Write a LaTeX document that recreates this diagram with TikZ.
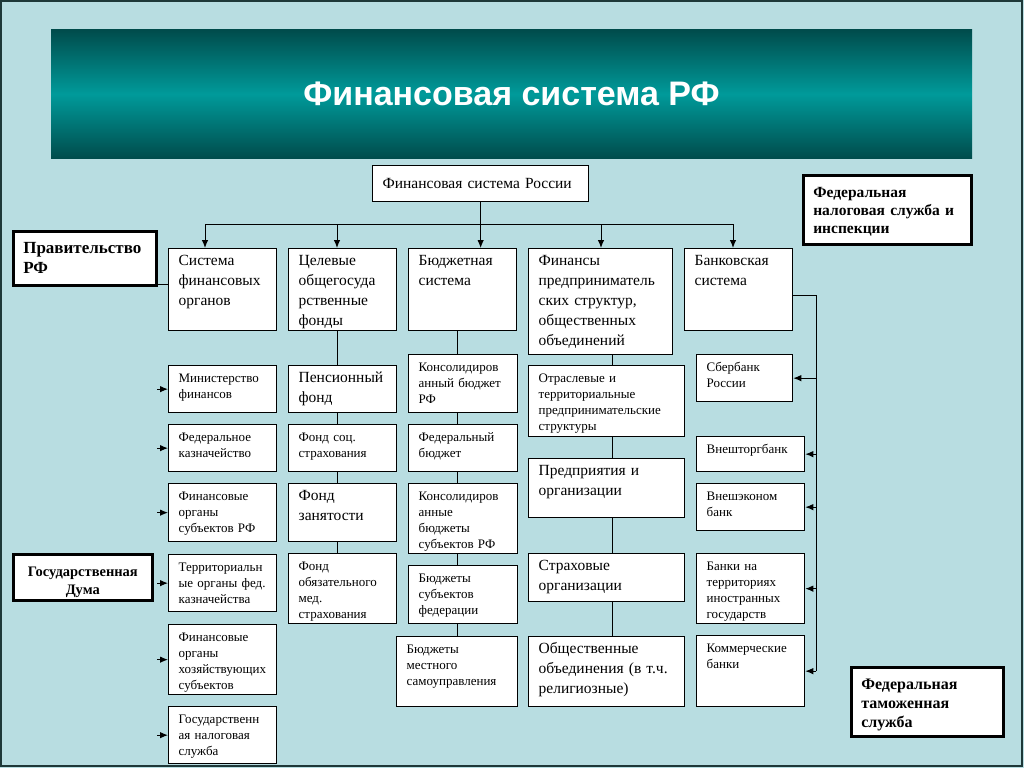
\documentclass[tikz,border=0pt]{standalone}
\usepackage{fontspec}
\setmainfont{Liberation Serif}
\newfontfamily\titlefont{Liberation Sans}
\usetikzlibrary{arrows.meta}
\definecolor{bg}{HTML}{B8DDE1}
\definecolor{tealdark}{HTML}{004C4C}
\definecolor{teallight}{HTML}{009A9A}
\definecolor{framecol}{HTML}{1E3838}
\tikzset{
  cell/.style={draw, fill=white, line width=1.3pt, anchor=north west, align=left,
    inner xsep=10pt, inner ysep=5pt, text height=12pt, font=\fontsize{13}{16}\selectfont},
  big/.style={font=\fontsize{15.5}{20}\selectfont},
  sz/.style 2 args={text width=#1pt-20pt, text depth=#2pt-22pt},
  head/.style={cell, line width=2.6pt, inner ysep=8pt, text height=14pt},
  hsz/.style 2 args={text width=#1pt-22pt, text depth=#2pt-30pt},
  arr/.style={-{Latex[length=8pt,width=6.5pt]}},
}
\begin{document}
\begin{tikzpicture}[x=1pt,y=-1pt]
  \useasboundingbox (0,0) rectangle (1024,768);
  \fill[bg] (0,0) rectangle (1024,768);
  \draw[framecol, line width=2pt] (1,1) rectangle (1022,766);
  \node[top color=tealdark, bottom color=tealdark, middle color=teallight,
    minimum width=921pt, minimum height=128pt, inner sep=0pt, text=white,
    font=\titlefont\bfseries\fontsize{34}{40}\selectfont] (title) at (511.5,94) {Финансовая система РФ};

  % top level
  \node[cell, big, text width=196pt, text height=18pt, text depth=8pt] (top) at (372,165) {Финансовая система России};
  \node[head, hsz={145}{54}, font=\bfseries\fontsize{17}{20}\selectfont] (prav) at (12,230) {Правительство\\РФ};
  \node[head, hsz={170}{69}, font=\bfseries\fontsize{15.5}{18}\selectfont] (nalog) at (802,174) {Федеральная\\налоговая служба и\\инспекции};
  \node[head, hsz={141}{46}, align=center, font=\bfseries\fontsize{14.5}{18}\selectfont] (duma) at (12,553) {Государственная\\Дума};
  \node[head, hsz={154}{69}, font=\bfseries\fontsize{16}{19}\selectfont] (tam) at (850,666) {Федеральная\\таможенная\\служба};

  % first row
  \node[cell, big, sz={108}{82}] (b1) at (168,248) {Система\\финансовых\\органов};
  \node[cell, big, sz={108}{82}] (b2) at (288,248) {Целевые\\общегосуда\\рственные\\фонды};
  \node[cell, big, sz={108}{82}] (b3) at (408,248) {Бюджетная\\система};
  \node[cell, big, sz={144}{106}] (b4) at (528,248) {Финансы\\предприниматель\\ских структур,\\общественных\\объединений};
  \node[cell, big, sz={108}{82}] (b5) at (684,248) {Банковская\\система};

  % financial bodies
  \node[cell, sz={108}{47}] (m1) at (168,365) {Министерство\\финансов};
  \node[cell, sz={108}{47}] (m2) at (168,424) {Федеральное\\казначейство};
  \node[cell, sz={108}{58}] (m3) at (168,483) {Финансовые\\органы\\субъектов РФ};
  \node[cell, sz={108}{57}] (m4) at (168,554) {Территориальн\\ые органы фед.\\казначейства};
  \node[cell, sz={108}{70}] (m5) at (168,624) {Финансовые\\органы\\хозяйствующих\\субъектов};
  \node[cell, sz={108}{57}] (m6) at (168,706) {Государственн\\ая налоговая\\служба};

  % funds
  \node[cell, big, sz={108}{47}] (f1) at (288,365) {Пенсионный\\фонд};
  \node[cell, sz={108}{47}] (f2) at (288,424) {Фонд соц.\\страхования};
  \node[cell, big, sz={108}{58}] (f3) at (288,483) {Фонд\\занятости};
  \node[cell, sz={108}{70}] (f4) at (288,553) {Фонд\\обязательного\\мед.\\страхования};

  % budgets
  \node[cell, sz={109}{58}] (c1) at (408,354) {Консолидиров\\анный бюджет\\РФ};
  \node[cell, sz={109}{47}] (c2) at (408,424) {Федеральный\\бюджет};
  \node[cell, sz={109}{70}] (c3) at (408,483) {Консолидиров\\анные\\бюджеты\\субъектов РФ};
  \node[cell, sz={109}{58}] (c4) at (408,565) {Бюджеты\\субъектов\\федерации};
  \node[cell, sz={121}{70}] (c5) at (396,636) {Бюджеты\\местного\\самоуправления};

  % enterprises
  \node[cell, sz={156}{71}] (p1) at (528,365) {Отраслевые и\\территориальные\\предпринимательские\\структуры};
  \node[cell, big, sz={156}{59}] (p2) at (528,458) {Предприятия и\\организации};
  \node[cell, big, sz={156}{48}] (p3) at (528,553) {Страховые\\организации};
  \node[cell, big, sz={156}{70}] (p4) at (528,636) {Общественные\\объединения (в т.ч.\\религиозные)};

  % banks
  \node[cell, sz={96}{47}] (k1) at (696,354) {Сбербанк\\России};
  \node[cell, sz={108}{35}] (k2) at (696,436) {Внешторгбанк};
  \node[cell, sz={108}{47}] (k3) at (696,483) {Внешэконом\\банк};
  \node[cell, sz={108}{70}] (k4) at (696,553) {Банки на\\территориях\\иностранных\\государств};
  \node[cell, sz={108}{71}] (k5) at (696,635) {Коммерческие\\банки};

  \coordinate (j1) at (205,224);
  \coordinate (j2) at (337,224);
  \coordinate (j4) at (601,224);
  \coordinate (j5) at (733,224);
  \coordinate (x2) at (337,0);
  \coordinate (x3) at (457,0);
  \coordinate (x4) at (612,0);
  \coordinate (x5) at (816,0);

  \begin{scope}[line width=1pt]
    \draw[arr] (top.south) to (top.south |- b3.north);
    \draw (j1) to (j5);
    \foreach \j/\b in {j1/b1, j2/b2, j4/b4, j5/b5}
      \draw[arr] (\j) to (\j |- \b.north);
    \draw ([yshift=2pt]prav.south east) to ([yshift=2pt]prav.south east -| b1.west);
    \foreach \m in {m1, m2, m3, m4, m5, m6}
      \draw[arr] ([xshift=-11pt]\m.west) to (\m.west);
    \foreach \a/\b in {b2/f1, f1/f2, f2/f3, f3/f4}
      \draw (\a.south -| x2) to (\b.north -| x2);
    \foreach \a/\b in {b3/c1, c1/c2, c2/c3, c3/c4, c4/c5}
      \draw (\a.south -| x3) to (\b.north -| x3);
    \foreach \a/\b in {b4/p1, p1/p2, p2/p3, p3/p4}
      \draw (\a.south -| x4) to (\b.north -| x4);
    \draw ([yshift=-6pt]b5.east) -| (x5 |- k5.east);
    \foreach \k in {k1, k2, k3, k4, k5}
      \draw[arr] (x5 |- \k.east) to (\k.east);
  \end{scope}
\end{tikzpicture}
\end{document}
